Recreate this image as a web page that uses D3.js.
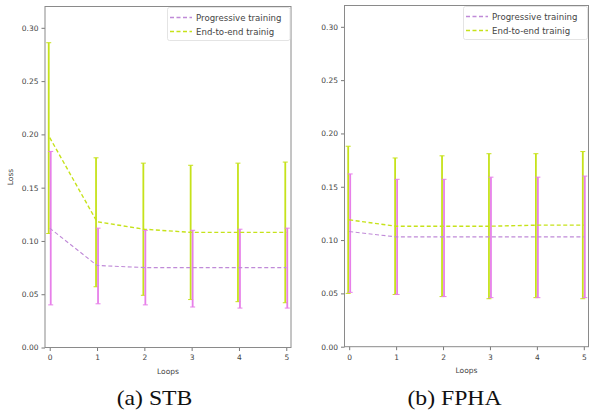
<!DOCTYPE html>
<html>
<head>
<meta charset="utf-8">
<script src="https://cdn.jsdelivr.net/npm/d3@7"></script>
<style>
  body { margin: 0; background: #fff; }
  svg { display: block; }
</style>
</head>
<body>
<div class="fig"></div>
<script>
var loops = [0, 1, 2, 3, 4, 5];
var yTicks = [0, 0.05, 0.10, 0.15, 0.20, 0.25, 0.30];
var seriesNames = ['Progressive training', 'End-to-end trainig'];

// STB panel
var stbProgMean = [0.112, 0.077, 0.075, 0.075, 0.075, 0.075];
var stbProgLow  = [0.040, 0.041, 0.040, 0.038, 0.037, 0.037];
var stbProgHigh = [0.184, 0.112, 0.110, 0.110, 0.111, 0.112];
var stbE2eMean  = [0.197, 0.118, 0.111, 0.108, 0.108, 0.108];
var stbE2eLow   = [0.107, 0.057, 0.049, 0.045, 0.043, 0.042];
var stbE2eHigh  = [0.286, 0.178, 0.173, 0.171, 0.173, 0.174];

// FPHA panel
var fphaProgMean = [0.108, 0.103, 0.103, 0.103, 0.103, 0.103];
var fphaProgLow  = [0.051, 0.049, 0.047, 0.046, 0.046, 0.046];
var fphaProgHigh = [0.162, 0.157, 0.157, 0.159, 0.159, 0.160];
var fphaE2eMean  = [0.119, 0.113, 0.113, 0.113, 0.114, 0.114];
var fphaE2eLow   = [0.050, 0.049, 0.047, 0.045, 0.046, 0.045];
var fphaE2eHigh  = [0.188, 0.177, 0.179, 0.181, 0.181, 0.183];

var progColor = '#e77fe9',
    progLine = '#c08ad8',
    e2eColor = '#c6e21a';

var svg = d3.select('.fig').append('svg').attr('width', 590).attr('height', 411);

function drawPanel(p) {
  var x = d3.scaleLinear().domain([-0.1, 5.1]).range([p.left, p.right]);
  var y = d3.scaleLinear().domain([0, 0.32]).range([p.bottom, p.top]);
  var g = svg.append('g');

  var series = [
    { mean: p.e2eMean, lo: p.e2eLow, hi: p.e2eHigh, bar: e2eColor, line: e2eColor, dx: -1, lw: 1.4 },
    { mean: p.progMean, lo: p.progLow, hi: p.progHigh, bar: progColor, line: progLine, dx: 1, lw: 1.1 }
  ];

  series.forEach(function (s) {
    var bars = g.append('g');
    loops.forEach(function (l, i) {
      var cx = x(l) + s.dx;
      bars.append('line')
        .attr('x1', cx).attr('x2', cx)
        .attr('y1', y(s.lo[i])).attr('y2', y(s.hi[i]))
        .attr('stroke', s.bar).attr('stroke-width', 1.8);
      [s.lo[i], s.hi[i]].forEach(function (v) {
        bars.append('line')
          .attr('x1', cx - 2.5).attr('x2', cx + 2.5)
          .attr('y1', y(v)).attr('y2', y(v))
          .attr('stroke', s.bar).attr('stroke-width', 1);
      });
    });
  });

  series.forEach(function (s) {
    var line = d3.line()
      .x(function (d, i) { return x(loops[i]); })
      .y(function (d) { return y(d); });
    g.append('path')
      .datum(s.mean)
      .attr('d', line)
      .attr('fill', 'none')
      .attr('stroke', s.line)
      .attr('stroke-width', s.lw)
      .attr('stroke-dasharray', '4,2.5');
  });

  // axes
  var xAxis = d3.axisBottom(x).tickValues(loops).tickSize(3.5).tickPadding(4)
    .tickFormat(d3.format('d'));
  var yAxis = d3.axisLeft(y).tickValues(yTicks).tickSize(3.5).tickPadding(3)
    .tickFormat(d3.format('.2f'));

  var gx = g.append('g').attr('transform', 'translate(0,' + p.bottom + ')').call(xAxis);
  var gy = g.append('g').attr('transform', 'translate(' + p.left + ',0)').call(yAxis);
  [gx, gy].forEach(function (a) {
    a.select('.domain').remove();
    a.selectAll('line').attr('stroke', '#555').attr('stroke-width', 0.8);
    a.selectAll('text').attr('fill', '#444').style('font-family', 'DejaVu Sans').style('font-size', '7.5px');
  });

  g.append('rect')
    .attr('x', p.left).attr('y', p.top)
    .attr('width', p.right - p.left).attr('height', p.bottom - p.top)
    .attr('fill', 'none').attr('stroke', '#8a8a8a').attr('stroke-width', 1);

  g.append('text')
    .attr('x', (p.left + p.right) / 2).attr('y', p.bottom + 26)
    .attr('text-anchor', 'middle')
    .attr('fill', '#444').style('font-family', 'DejaVu Sans').style('font-size', '7.5px')
    .text('Loops');

  if (p.yLabel) {
    g.append('text')
      .attr('transform', 'translate(' + (p.left - 32) + ',' + ((p.top + p.bottom) / 2) + ') rotate(-90)')
      .attr('text-anchor', 'middle')
      .attr('fill', '#444').style('font-family', 'DejaVu Sans').style('font-size', '7.5px')
      .text(p.yLabel);
  }

  // legend
  var lg = g.append('g').attr('transform', 'translate(' + p.legendX + ',' + Math.round(p.top) + ')');
  lg.append('rect')
    .attr('x', 0.5).attr('y', 0.5)
    .attr('width', p.right - p.legendX - 1.5).attr('height', 33).attr('rx', 2)
    .attr('fill', '#fff')
    .attr('stroke', '#ddd').attr('stroke-width', 0.8);
  var legendColors = [progLine, e2eColor];
  legendColors.forEach(function (c, i) {
    var ly = 10.5 + i * 14;
    lg.append('line')
      .attr('x1', 3).attr('x2', 25).attr('y1', ly).attr('y2', ly)
      .attr('stroke', c).attr('stroke-width', 1.3).attr('stroke-dasharray', '4,2.5');
    lg.append('text')
      .attr('x', 29).attr('y', ly + 3)
      .attr('fill', '#444').style('font-family', 'DejaVu Sans').style('font-size', '8.6px')
      .text(seriesNames[i]);
  });

  svg.append('text')
    .attr('transform', 'translate(' + p.captionX + ',405) scale(1.13,1)')
    .attr('text-anchor', 'middle')
    .style('font-family', 'Liberation Serif').style('font-size', '21px')
    .attr('fill', '#111')
    .text(p.caption);
}

drawPanel({
  left: 45, right: 291, top: 6.5, bottom: 347.5, legendX: 167,
  progMean: stbProgMean, progLow: stbProgLow, progHigh: stbProgHigh,
  e2eMean: stbE2eMean, e2eLow: stbE2eLow, e2eHigh: stbE2eHigh,
  yLabel: 'Loss', caption: '(a) STB', captionX: 154.5
});

drawPanel({
  left: 344.5, right: 588.5, top: 5.5, bottom: 346.7, legendX: 463,
  progMean: fphaProgMean, progLow: fphaProgLow, progHigh: fphaProgHigh,
  e2eMean: fphaE2eMean, e2eLow: fphaE2eLow, e2eHigh: fphaE2eHigh,
  yLabel: null, caption: '(b) FPHA', captionX: 454.5
});
</script>
</body>
</html>
